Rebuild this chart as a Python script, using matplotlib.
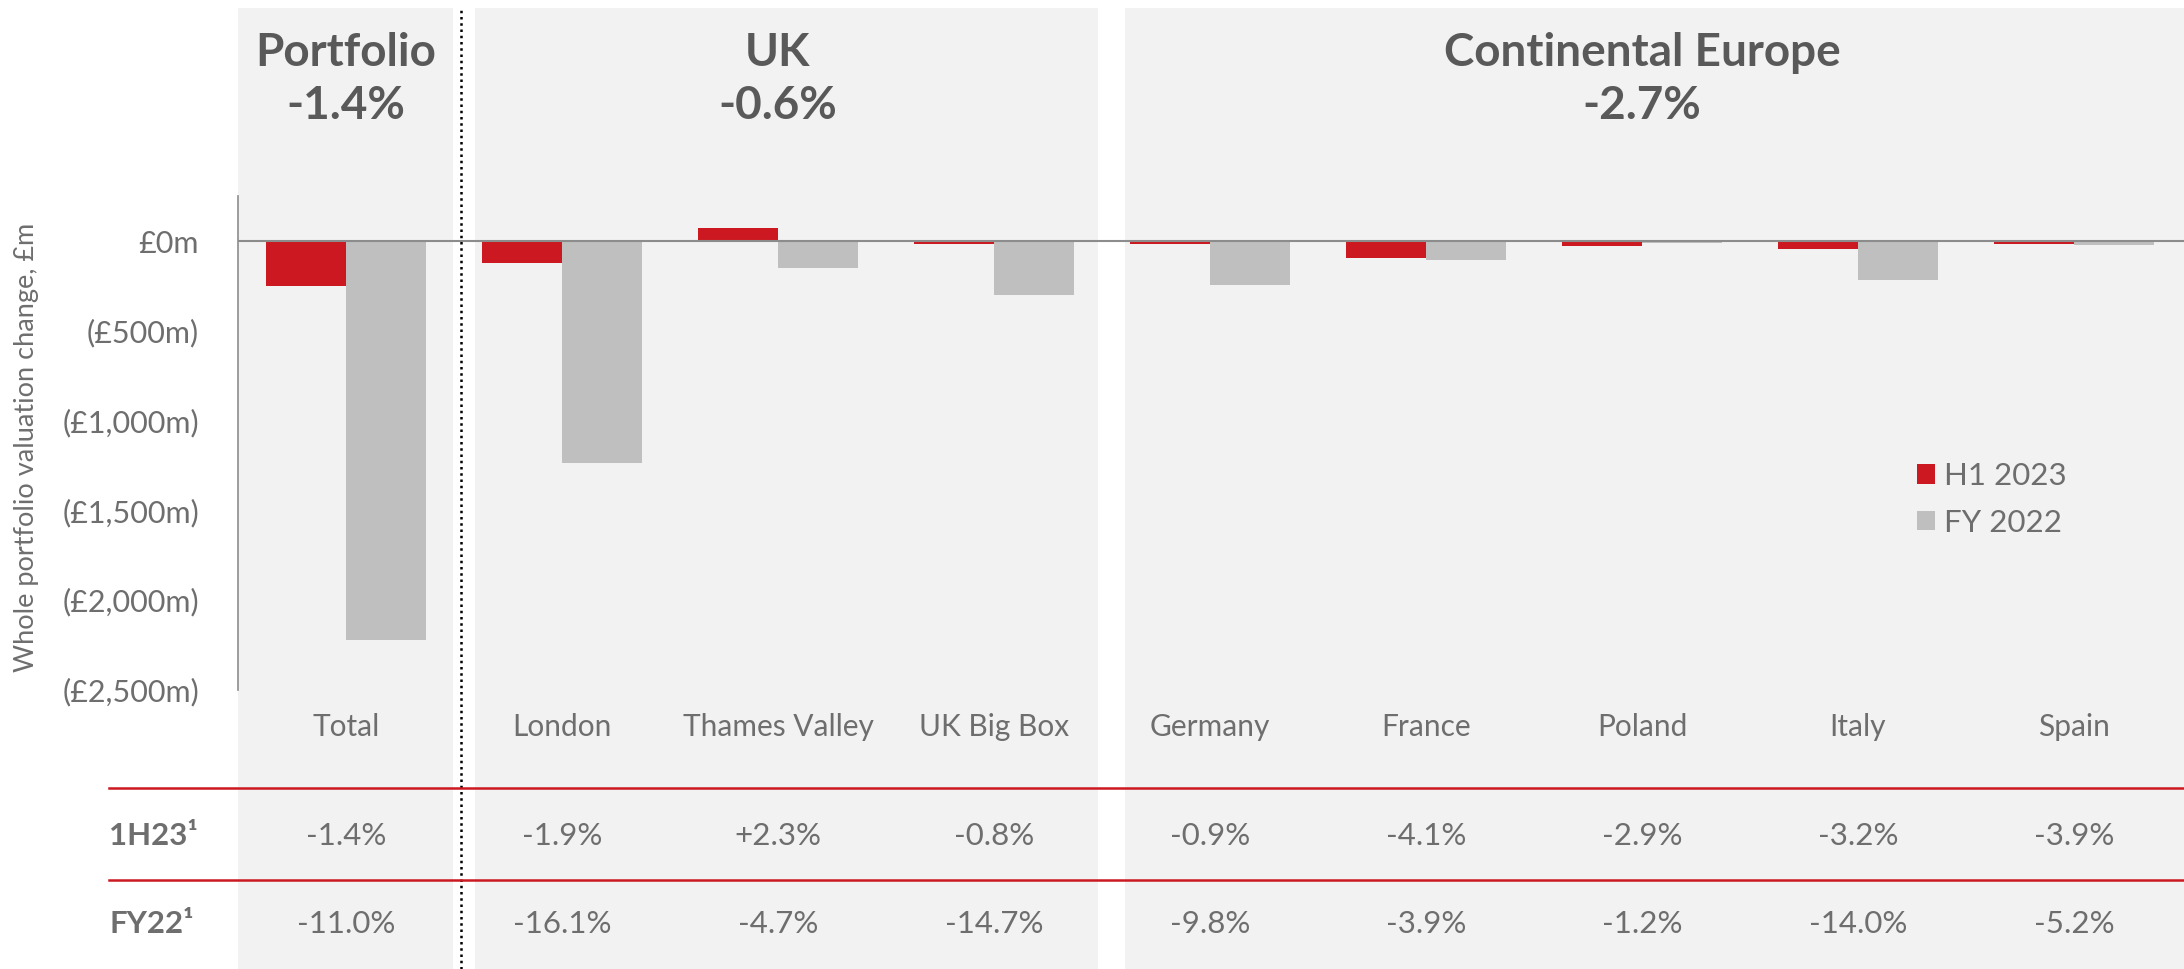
import matplotlib
matplotlib.use("Agg")
import matplotlib.pyplot as plt
import matplotlib.transforms as mtransforms
from matplotlib.patches import Rectangle, Patch
from matplotlib.lines import Line2D
import numpy as np

# dati (milioni di sterline)
categories = ["Total", "London", "Thames Valley", "UK Big Box", "Germany",
              "France", "Poland", "Italy", "Spain"]
h1_2023 = [-249, -120, 75, -13, -17, -92, -24, -41, -13]
fy_2022 = [-2225, -1236, -148, -297, -246, -105, -11, -215, -21]
h1_pct = ["-1.4%", "-1.9%", "+2.3%", "-0.8%", "-0.9%", "-4.1%", "-2.9%", "-3.2%", "-3.9%"]
fy_pct = ["-11.0%", "-16.1%", "-4.7%", "-14.7%", "-9.8%", "-3.9%", "-1.2%", "-14.0%", "-5.2%"]
row_labels = ["1H23\u00b9", "FY22\u00b9"]
groups = ["Portfolio", "UK", "Continental Europe"]
group_pct = ["-1.4%", "-0.6%", "-2.7%"]
group_members = [(0, 0), (1, 3), (4, 8)]
yticks = [0, -500, -1000, -1500, -2000, -2500]

RED = "#CC1820"
GREY = "#BFBFBF"
BG = "#F2F2F2"
TXT = "#6E6E6E"
TITLE = "#595959"

plt.rcParams['font.family'] = ['Lato', 'DejaVu Sans']

W, H = 2184, 969
fig = plt.figure(figsize=(W / 100, H / 100), dpi=100)
ax = fig.add_axes([238 / W, (H - 689.6) / H, (W - 238) / W, 494.1 / H])
ax.set_facecolor("none")
ax.set_zorder(2)

x = np.arange(len(categories))
w = 80 / 216
ax.bar(x - w / 2, h1_2023, w, color=RED, label="H1 2023", zorder=3)
ax.bar(x + w / 2, fy_2022, w, color=GREY, label="FY 2022", zorder=3)
ax.axhline(0, color="#8C8C8C", lw=1.5, zorder=4)

ax.set_xlim(-0.5, -0.5 + (W - 238) / 216)
ax.set_ylim(-2500, 256)

ax.set_yticks(yticks)
ax.set_yticklabels(["\u00a30m" if v == 0 else "(\u00a3{:,}m)".format(-v) for v in yticks])
ax.set_xticks(x)
ax.set_xticklabels(categories)
ax.tick_params(axis='y', length=0, pad=28, labelsize=22, labelcolor=TXT)
ax.tick_params(axis='x', length=0, pad=17, labelsize=21.5, labelcolor=TXT)
for s in ["top", "right", "bottom"]:
    ax.spines[s].set_visible(False)
ax.spines["left"].set_color("#8C8C8C")
ax.spines["left"].set_linewidth(1.2)

ax.set_ylabel("Whole portfolio valuation change, \u00a3m", fontsize=19.5, color=TXT)
ax.yaxis.set_label_coords((39 - 238) / (W - 238), 0.49)

# pannelli grigi di sfondo
trans = mtransforms.blended_transform_factory(ax.transData, fig.transFigure)
pads = [(0.0, 0.005), (0.097, 0.02), (0.106, -0.1)]
for (a, b), (pl, pr) in zip(group_members, pads):
    x0 = a - 0.5 + pl
    x1 = b + 0.5 - pr
    fig.add_artist(Rectangle((x0, 0), x1 - x0, 1 - 8 / H, transform=trans,
                             facecolor=BG, edgecolor="none", zorder=0))

# titoli dei gruppi
for (a, b), g, p in zip(group_members, groups, group_pct):
    xc = (a + b) / 2
    fig.text(0, 1 - 53 / H, g, transform=trans, ha="center", va="center",
             fontsize=33, fontweight="bold", color=TITLE).set_x(xc)
    fig.text(0, 1 - 106 / H, p, transform=trans, ha="center", va="center",
             fontsize=33, fontweight="bold", color=TITLE).set_x(xc)

# linea tratteggiata tra Portfolio e UK
fig.add_artist(Line2D([0.532, 0.532], [0, 1 - 8 / H], transform=trans, color="black",
                      lw=1.8, linestyle=(0, (1, 1.5)), zorder=5))

# tabella sotto il grafico
for yy in [788, 880]:
    fig.add_artist(Line2D([109 / W, 1], [1 - yy / H, 1 - yy / H], transform=fig.transFigure,
                          color=RED, lw=1.8, zorder=5))
for lab, vals, yy in zip(row_labels, [h1_pct, fy_pct], [836, 924]):
    fig.text(109 / W, 1 - yy / H, lab, ha="left", va="center", fontsize=22.5,
             fontweight="bold", color=TXT)
    for i, v in enumerate(vals):
        fig.text(0, 1 - yy / H, v, transform=trans, ha="center", va="center",
                 fontsize=22.5, color=TXT).set_x(i)

handles = [Patch(facecolor=RED, label="H1 2023"), Patch(facecolor=GREY, label="FY 2022")]
leg = ax.legend(handles=handles, loc="upper left", bbox_to_anchor=(1917 / W, 1 - 462 / H),
                bbox_transform=fig.transFigure, frameon=False, fontsize=22.5,
                handlelength=0.58, handleheight=0.58, handletextpad=0.28,
                labelspacing=0.6, borderpad=0, borderaxespad=0)
for t in leg.get_texts():
    t.set_color(TXT)

fig.savefig("out.png", dpi=100, facecolor="white")
